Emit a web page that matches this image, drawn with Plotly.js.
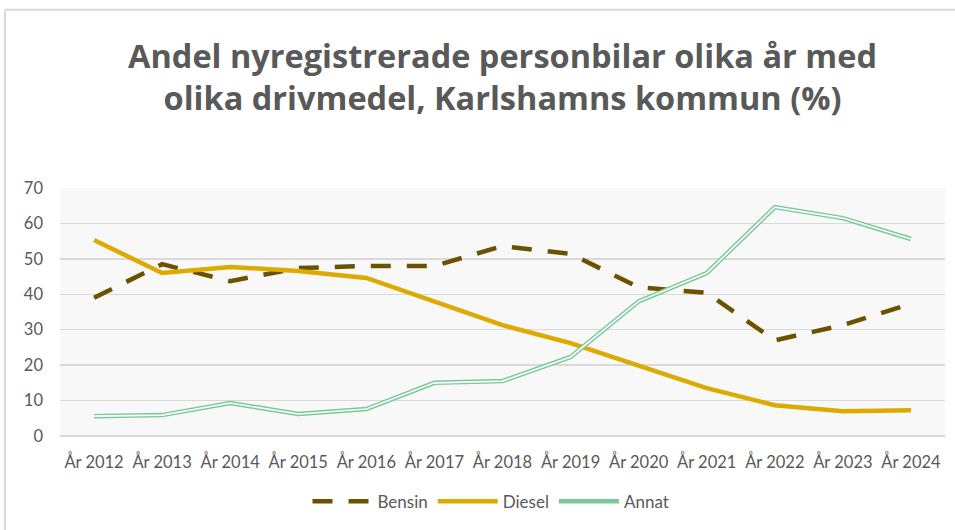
<!DOCTYPE html>
<html>
<head>
<meta charset="utf-8">
<script src="https://cdn.plot.ly/plotly-3.0.1.min.js"></script>
<style>html,body{margin:0;padding:0;background:#fff;}#chart{width:955px;height:530px;}</style>
</head>
<body>
<div id="chart"></div>
<script>
var years = ["År 2012","År 2013","År 2014","År 2015","År 2016","År 2017","År 2018","År 2019","År 2020","År 2021","År 2022","År 2023","År 2024"];
var bensin = [39.0, 48.5, 43.7, 47.4, 48.0, 48.0, 53.6, 51.4, 42.0, 40.4, 27.0, 31.3, 37.3];
var diesel = [55.3, 46.0, 47.7, 46.6, 44.6, 37.8, 31.3, 26.2, 20.0, 13.5, 8.7, 7.0, 7.3];
var annat  = [5.6, 5.9, 9.3, 6.2, 7.6, 15.0, 15.5, 22.3, 38.0, 46.0, 64.6, 61.5, 55.6];

var traces = [
  {x: years, y: bensin, name: "Bensin", type: "scatter", mode: "lines",
   line: {color: "#6b5200", width: 4.5, dash: "20px,16px"}},
  {x: years, y: diesel, name: "Diesel", type: "scatter", mode: "lines",
   line: {color: "#dcaa00", width: 4.5}},
  {x: years, y: annat, name: "Annat", type: "scatter", mode: "lines",
   line: {color: "#79c89a", width: 4.5}},
  {x: years, y: annat, name: "Annat", type: "scatter", mode: "lines", showlegend: false, hoverinfo: "skip",
   line: {color: "#ffffff", width: 1.6}}
];

var layout = {
  width: 955, height: 530,
  margin: {l: 60, r: 10, t: 188, b: 94},
  paper_bgcolor: "#ffffff",
  plot_bgcolor: "#f8f8f8",
  font: {family: "Lato, 'Open Sans', sans-serif", color: "#595959", size: 16},
  title: {text: "Andel nyregistrerade personbilar olika år med<br>olika drivmedel, Karlshamns kommun (%)",
          font: {family: "'Open Sans', Lato, sans-serif", size: 32.5, color: "#595959", weight: "bold"},
          xref: "paper", x: 0.5, xanchor: "center", y: 0.872, yanchor: "middle"},
  xaxis: {type: "category", range: [-0.5, 12.5], showgrid: false, zeroline: false,
          showline: false, ticks: "", ticklabelstandoff: 14, tickfont: {size: 16.5, color: "#595959"}, fixedrange: true},
  yaxis: {range: [0, 70], dtick: 10, showgrid: true, gridcolor: "#d9d9d9", gridwidth: 1.5,
          zeroline: true, zerolinecolor: "#d9d9d9", zerolinewidth: 2, showline: false,
          ticks: "", ticklabelstandoff: 16, tickfont: {size: 16.5, color: "#595959"}, fixedrange: true},
  legend: {orientation: "h", x: 0.487, xanchor: "center", y: -0.265, yanchor: "middle",
           font: {size: 17, color: "#595959"}, itemwidth: 60, traceorder: "normal"},
  showlegend: true,
  shapes: [
    {type: "line", xref: "paper", yref: "paper", x0: -0.0621, x1: 1.02, y0: 1.719, y1: 1.719,
     line: {color: "#d9d9d9", width: 2}},
    {type: "line", xref: "paper", yref: "paper", x0: -0.0621, x1: -0.0621, y0: 1.719, y1: -0.5,
     line: {color: "#d9d9d9", width: 2}}
  ]
};

Plotly.newPlot("chart", traces, layout, {displayModeBar: false, staticPlot: true});
</script>
</body>
</html>
